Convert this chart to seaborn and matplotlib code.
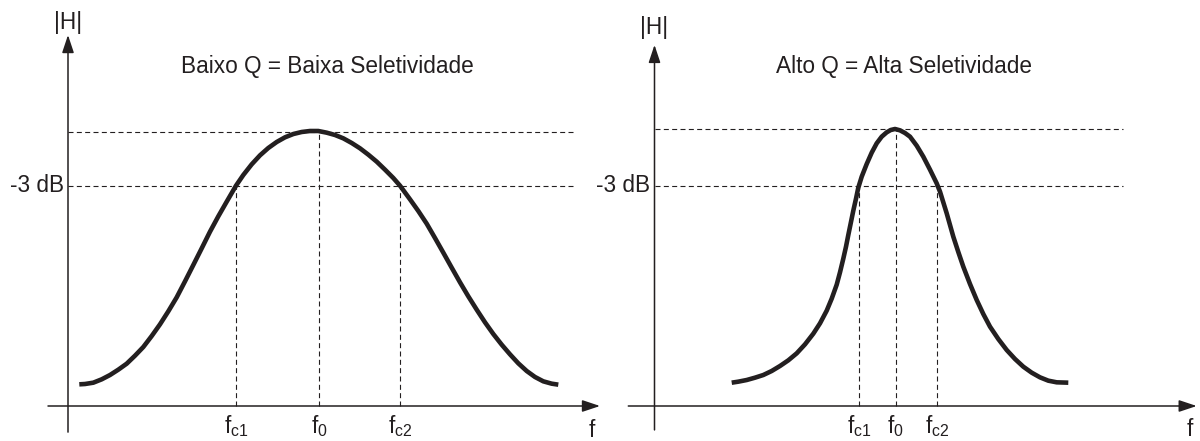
import numpy as np
import pandas as pd
import matplotlib
matplotlib.use("Agg")
import matplotlib.pyplot as plt
import seaborn as sns

# ---------------- data ----------------
# Left panel: low Q (broad response).  x = frequency (arbitrary units), y = |H| (peak = 1)
low_q_f = [0.113, 0.17, 0.253, 0.337, 0.42, 0.503, 0.587, 0.67, 0.753, 0.837, 0.92,
           1.003, 1.087, 1.17, 1.253, 1.337, 1.42, 1.503, 1.587, 1.68, 1.753, 1.837,
           1.92, 2.003, 2.087, 2.17, 2.253, 2.337, 2.42, 2.503, 2.587, 2.67, 2.753,
           2.837, 2.92, 3.003, 3.087, 3.17, 3.253, 3.32, 3.42, 3.503, 3.587, 3.67,
           3.753, 3.837, 3.92, 4.003, 4.087, 4.17, 4.253, 4.337, 4.42, 4.503, 4.587,
           4.67, 4.753, 4.837, 4.903]
low_q_h = [0.0788, 0.080, 0.0848, 0.097, 0.1127, 0.1321, 0.1539, 0.183, 0.2145, 0.2545,
           0.297, 0.3442, 0.3952, 0.4533, 0.5127, 0.5733, 0.6339, 0.6897, 0.743, 0.8012,
           0.84, 0.8788, 0.9115, 0.9382, 0.96, 0.977, 0.989, 0.9964, 1.0, 1.0, 0.9939,
           0.9855, 0.9733, 0.9564, 0.937, 0.914, 0.8885, 0.8594, 0.8291, 0.8012, 0.7515,
           0.7091, 0.663, 0.6109, 0.5576, 0.503, 0.4497, 0.3988, 0.3503, 0.3042, 0.2618,
           0.223, 0.1879, 0.1552, 0.1273, 0.1055, 0.0897, 0.0812, 0.0776]
low_q_marks = [1.68, 2.51, 3.32]          # fc1, f0, fc2
low_q_peak = 0.998
low_q_3db = 0.801

# Right panel: high Q (narrow response)
high_q_f = [0.772, 0.838, 0.922, 1.005, 1.088, 1.172, 1.255, 1.338, 1.422, 1.505, 1.588,
            1.655, 1.722, 1.772, 1.822, 1.855, 1.888, 1.915, 1.938, 1.962, 1.988, 2.015,
            2.038, 2.072, 2.122, 2.172, 2.222, 2.272, 2.322, 2.362, 2.405, 2.455, 2.505,
            2.555, 2.622, 2.688, 2.755, 2.822, 2.855, 2.888, 2.922, 2.955, 2.988, 3.038,
            3.088, 3.155, 3.222, 3.288, 3.355, 3.438, 3.522, 3.605, 3.688, 3.772, 3.855,
            3.938, 4.022, 4.138]
high_q_h = [0.0848, 0.0885, 0.0945, 0.103, 0.1127, 0.1273, 0.1455, 0.1661, 0.1915, 0.2242,
            0.263, 0.3006, 0.3467, 0.3903, 0.4412, 0.4861, 0.5358, 0.5794, 0.6218, 0.6642,
            0.7103, 0.7539, 0.7939, 0.8339, 0.88, 0.9212, 0.9552, 0.9794, 0.9952, 1.0036,
            1.0073, 1.0024, 0.9927, 0.9794, 0.9467, 0.9067, 0.8594, 0.8097, 0.7794, 0.7406,
            0.7006, 0.6582, 0.6158, 0.56, 0.5067, 0.4436, 0.3855, 0.3345, 0.2885, 0.2436,
            0.2036, 0.1709, 0.143, 0.1212, 0.1042, 0.0921, 0.0861, 0.0848]
high_q_marks = [2.048, 2.41, 2.828]
high_q_peak = 1.006
high_q_3db = 0.801

mark_labels = [r"$f_{c1}$", r"$f_{0}$", r"$f_{c2}$"]
titles = ["Baixo Q = Baixa Seletividade", "Alto Q = Alta Seletividade"]
y_label = "|H|"
x_label = "f"
level_label = "-3 dB"

# ---------------- style ----------------
sns.set_theme(style="white")
plt.rcParams["font.family"] = ["Liberation Sans", "DejaVu Sans"]
plt.rcParams["mathtext.default"] = "regular"

INK = "#231f20"
W, H = 1200, 441
FS = 16.3

fig = plt.figure(figsize=(W / 100, H / 100), dpi=100)
fig.patch.set_facecolor("white")


def make_axes(origin_px, origin_py):
    ax = fig.add_axes([0, 0, 1, 1])
    ax.set_xlim((0 - origin_px) / 100, (W - origin_px) / 100)
    ax.set_ylim((origin_py - H) / 275, origin_py / 275)
    ax.axis("off")
    ax.patch.set_alpha(0)
    return ax


def panel(ax, fx, hy, marks, peak, lvl, title, title_x, dash_end,
          xa_start, xa_tip, ya_bot, ya_tip, hlabel_y, flabel, title_y=1.21):
    dash = (0, (4.5, 3))
    # horizontal reference lines
    ax.plot([0, dash_end], [peak, peak], color=INK, lw=0.8, ls=dash)
    ax.plot([0, dash_end], [lvl, lvl], color=INK, lw=0.8, ls=dash)
    # vertical reference lines
    for m, top in zip(marks, [lvl, peak, lvl]):
        ax.plot([m, m], [0, top], color=INK, lw=0.8, ls=dash)
    # axes with arrows
    arrow = dict(arrowstyle="-|>,head_length=0.6,head_width=0.2", mutation_scale=18,
                 lw=1.1, color=INK, shrinkA=0, shrinkB=0)
    ax.annotate("", xy=(xa_tip, 0), xytext=(xa_start, 0), arrowprops=arrow)
    ax.annotate("", xy=(0, ya_tip), xytext=(0, ya_bot), arrowprops=arrow)
    # response curve
    df = pd.DataFrame({"f": fx, "H": hy})
    sns.lineplot(data=df, x="f", y="H", ax=ax, color=INK, linewidth=3.3,
                 sort=False, estimator=None, solid_capstyle="butt",
                 solid_joinstyle="round", legend=False)
    ax.axis("off")
    # texts
    ax.text(0, hlabel_y, y_label, ha="center", va="center", fontsize=FS, color=INK)
    ax.text(-0.04, lvl, level_label, ha="right", va="center", fontsize=FS, color=INK)
    ax.text(title_x, title_y, title, ha="center", va="baseline", fontsize=FS, color=INK)
    for m, lab in zip(marks, mark_labels):
        ax.text(m, -0.098, lab, ha="center", va="baseline", fontsize=FS, color=INK)
    ax.text(flabel[0], flabel[1], x_label, ha="center", va="baseline", fontsize=FS, color=INK)


axL = make_axes(68, 406)
panel(axL, low_q_f, low_q_h, low_q_marks, low_q_peak, low_q_3db, titles[0],
      title_x=2.59, dash_end=5.06, xa_start=-0.2, xa_tip=5.32,
      ya_bot=-0.095, ya_tip=1.349, hlabel_y=1.394, flabel=(5.24, -0.112))

axR = make_axes(654.5, 406)
panel(axR, high_q_f, high_q_h, high_q_marks, high_q_peak, high_q_3db, titles[1],
      title_x=2.495, dash_end=4.685, xa_start=-0.262, xa_tip=5.422,
      ya_bot=-0.087, ya_tip=1.313, hlabel_y=1.378, flabel=(5.355, -0.108))

fig.savefig("out.png", dpi=100, facecolor="white")
